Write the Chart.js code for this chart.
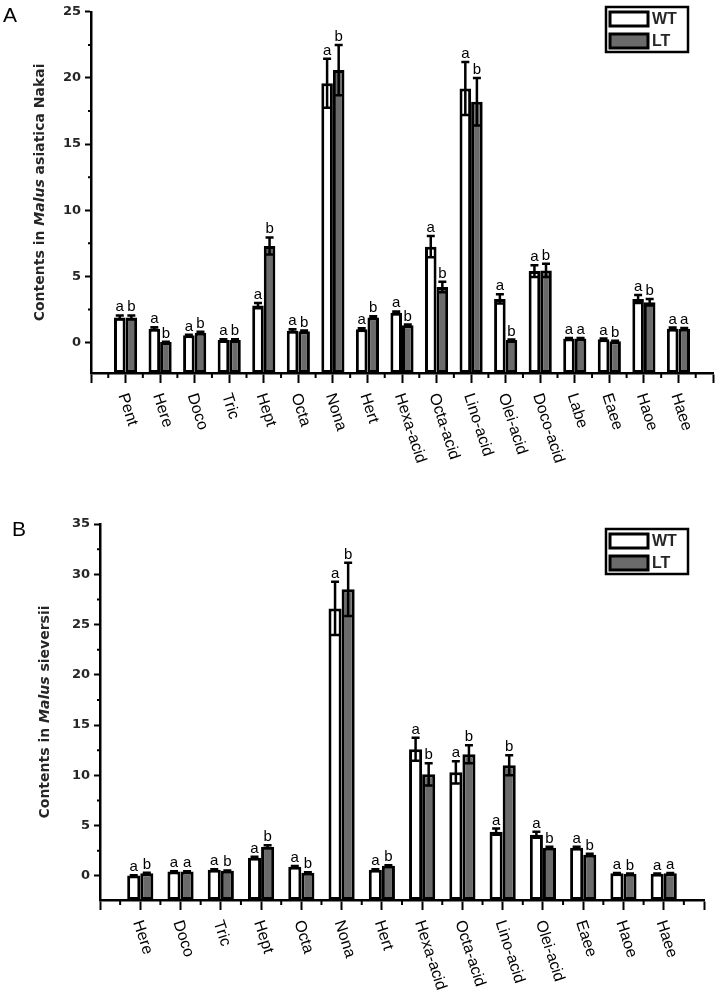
<!DOCTYPE html>
<html>
<head>
<meta charset="utf-8">
<script src="https://cdn.jsdelivr.net/npm/chart.js@4/dist/chart.umd.min.js"></script>
<style>
  html, body { margin: 0; padding: 0; background: #fff; }
  .wrap { position: absolute; left: 0; width: 717px; }
  #wrapA { top: 0; height: 490px; }
  #wrapB { top: 490px; height: 510px; }
</style>
</head>
<body>
<div class="wrap" id="wrapA"><canvas id="chartA"></canvas></div>
<div class="wrap" id="wrapB"><canvas id="chartB"></canvas></div>
<script>
/* ---------- Panel A: Malus asiatica Nakai ---------- */
const catsA = ['Pent', 'Here', 'Doco', 'Tric', 'Hept', 'Octa', 'Nona', 'Hert', 'Hexa-acid',
  'Octa-acid', 'Lino-acid', 'Olei-acid', 'Doco-acid', 'Labe', 'Eaee', 'Haoe', 'Haee'];
const wtA    = [1.9, 1.05, 0.55, 0.2, 2.8, 0.9, 19.6, 1.0, 2.25, 7.25, 19.2, 3.3, 5.4, 0.3, 0.25, 3.3, 1.05];
const wtErrA = [0.15, 0.1, 0.05, 0.05, 0.2, 0.1, 1.85, 0.08, 0.1, 0.8, 2.0, 0.35, 0.45, 0.05, 0.05, 0.3, 0.08];
const ltA    = [1.9, 0.05, 0.75, 0.2, 7.3, 0.85, 20.6, 1.9, 1.3, 4.2, 18.2, 0.2, 5.45, 0.3, 0.1, 3.05, 1.05];
const ltErrA = [0.15, 0.02, 0.06, 0.05, 0.65, 0.06, 1.9, 0.08, 0.06, 0.4, 1.8, 0.03, 0.5, 0.05, 0.03, 0.25, 0.06];
const wtLetA = ['a', 'a', 'a', 'a', 'a', 'a', 'a', 'a', 'a', 'a', 'a', 'a', 'a', 'a', 'a', 'a', 'a'];
const ltLetA = ['b', 'b', 'b', 'b', 'b', 'b', 'b', 'b', 'b', 'b', 'b', 'b', 'b', 'a', 'b', 'b', 'a'];

/* ---------- Panel B: Malus sieversii ---------- */
const catsB = ['Here', 'Doco', 'Tric', 'Hept', 'Octa', 'Nona', 'Hert', 'Hexa-acid', 'Octa-acid',
  'Lino-acid', 'Olei-acid', 'Eaee', 'Haoe', 'Haee'];
const wtB    = [0.03, 0.43, 0.6, 1.8, 0.9, 26.6, 0.6, 12.6, 10.3, 4.4, 4.1, 2.8, 0.25, 0.2];
const wtErrB = [0.02, 0.03, 0.05, 0.1, 0.08, 2.65, 0.05, 1.15, 1.1, 0.3, 0.3, 0.1, 0.03, 0.03];
const ltB    = [0.27, 0.43, 0.5, 2.9, 0.3, 28.5, 1.0, 10.1, 12.1, 11.0, 2.8, 2.1, 0.2, 0.25];
const ltErrB = [0.03, 0.03, 0.04, 0.15, 0.05, 2.65, 0.06, 1.1, 0.9, 1.0, 0.1, 0.1, 0.03, 0.03];
const wtLetB = ['a', 'a', 'a', 'a', 'a', 'a', 'a', 'a', 'a', 'a', 'a', 'a', 'a', 'a'];
const ltLetB = ['b', 'a', 'b', 'b', 'b', 'b', 'b', 'b', 'b', 'b', 'b', 'b', 'b', 'a'];

const seriesNames = ['WT', 'LT'];
const GRAY = '#6b6b6b';
const INK = '#262626';

// draws error bars, significance letters, rotated x labels, minor ticks, title, legend
function decorPlugin(p) {
  return {
    id: 'decor',
    afterDatasetsDraw(chart) {
      const ctx = chart.ctx;
      const y = chart.scales.y;
      ctx.save();
      ctx.strokeStyle = '#000';
      ctx.lineWidth = 2.5;
      ctx.fillStyle = '#000';
      ctx.font = '15px "Liberation Sans", Arial, sans-serif';
      ctx.textAlign = 'center';
      ctx.textBaseline = 'alphabetic';
      [[p.wt, p.wtErr, p.wtLet], [p.lt, p.ltErr, p.ltLet]].forEach((s, di) => {
        const meta = chart.getDatasetMeta(di);
        meta.data.forEach((el, i) => {
          const top = y.getPixelForValue(s[0][i] + s[1][i]);
          const bot = y.getPixelForValue(s[0][i] - s[1][i]);
          ctx.beginPath();
          ctx.moveTo(el.x, top); ctx.lineTo(el.x, bot);
          ctx.moveTo(el.x - 4, top); ctx.lineTo(el.x + 4, top);
          ctx.moveTo(el.x - 4, bot); ctx.lineTo(el.x + 4, bot);
          ctx.stroke();
          ctx.fillText(s[2][i], el.x, top - 4);
        });
      });
      ctx.restore();
    },
    afterDraw(chart) {
      const ctx = chart.ctx;
      const x = chart.scales.x, y = chart.scales.y;
      const area = chart.chartArea;
      ctx.save();
      ctx.strokeStyle = '#000';
      ctx.lineWidth = 2;
      // minor ticks
      ctx.beginPath();
      for (let v = -2.5; v <= y.max; v += 5) {
        if (v < y.min) continue;
        const py = y.getPixelForValue(v);
        ctx.moveTo(area.left - 3, py); ctx.lineTo(area.left, py);
      }
      for (let v = x.min + 0.5; v < x.max; v += 1) {
        const px = x.getPixelForValue(v);
        ctx.moveTo(px, area.bottom); ctx.lineTo(px, area.bottom + 5);
      }
      ctx.stroke();

      // rotated category labels
      ctx.fillStyle = '#000';
      ctx.font = '16px "Liberation Sans", Arial, sans-serif';
      ctx.textAlign = 'left';
      ctx.textBaseline = 'middle';
      p.cats.forEach((c, i) => {
        const px = x.getPixelForValue(i);
        ctx.save();
        ctx.translate(px - 3, area.bottom + 21);
        ctx.rotate(72 * Math.PI / 180);
        ctx.fillText(c, 0, 0);
        ctx.restore();
      });

      // y title with italic genus
      const parts = [['Contents in ', 'bold'], ['Malus', 'italic bold'], [p.species, 'bold']];
      ctx.save();
      ctx.translate(p.titleX, (area.top + area.bottom) / 2);
      ctx.rotate(-Math.PI / 2);
      ctx.fillStyle = INK;
      ctx.textBaseline = 'middle';
      let total = 0;
      parts.forEach(pt => { ctx.font = pt[1] + ' 14px "DejaVu Sans", sans-serif'; total += ctx.measureText(pt[0]).width; });
      let cx = -total / 2;
      parts.forEach(pt => {
        ctx.font = pt[1] + ' 14px "DejaVu Sans", sans-serif';
        ctx.fillText(pt[0], cx, 0);
        cx += ctx.measureText(pt[0]).width;
      });
      ctx.restore();

      // panel letter
      ctx.fillStyle = '#000';
      ctx.font = '21px "Liberation Sans", Arial, sans-serif';
      ctx.textAlign = 'left';
      ctx.textBaseline = 'alphabetic';
      ctx.fillText(p.panel, p.panelX, p.panelY);

      // legend box
      const L = p.legend;
      ctx.lineWidth = 2.5;
      ctx.strokeRect(L.x, L.y, 82, 45);
      ctx.lineWidth = 3;
      ctx.fillStyle = '#fff';
      ctx.fillRect(L.x + 4, L.y + 5, 38, 14);
      ctx.strokeRect(L.x + 4, L.y + 5, 38, 14);
      ctx.fillStyle = GRAY;
      ctx.fillRect(L.x + 4, L.y + 27, 38, 14);
      ctx.strokeRect(L.x + 4, L.y + 27, 38, 14);
      ctx.fillStyle = INK;
      ctx.font = 'bold 16px "Liberation Sans", Arial, sans-serif';
      ctx.textBaseline = 'middle';
      ctx.fillText(seriesNames[0], L.x + 46, L.y + 13);
      ctx.fillText(seriesNames[1], L.x + 46, L.y + 35);
      ctx.restore();
    }
  };
}

function makeChart(id, p) {
  const H = p.height;
  const barOpts = { borderColor: '#000', borderWidth: 3, borderSkipped: false, base: p.yMin,
    categoryPercentage: p.catPct, barPercentage: 1.0 };
  return new Chart(document.getElementById(id), {
    type: 'bar',
    data: {
      datasets: [
        Object.assign({ label: seriesNames[0], backgroundColor: '#fff',
          data: p.wt.map((v, i) => ({ x: i, y: v })) }, barOpts),
        Object.assign({ label: seriesNames[1], backgroundColor: GRAY,
          data: p.lt.map((v, i) => ({ x: i, y: v })) }, barOpts)
      ]
    },
    options: {
      responsive: true,
      maintainAspectRatio: false,
      animation: false,
      layout: { padding: { top: p.area.top, right: 717 - p.area.right, bottom: 0, left: 0 } },
      plugins: { legend: { display: false }, tooltip: { enabled: false } },
      scales: {
        x: {
          type: 'linear', min: -1, max: p.cats.length, offset: false,
          ticks: { stepSize: 1, display: false },
          grid: { display: true, offset: false, drawOnChartArea: false, drawTicks: true,
            tickLength: 10, tickWidth: 2, tickColor: '#000' },
          border: { display: true, color: '#000', width: 2.5 },
          afterFit: s => { s.height = H - p.area.bottom; }
        },
        y: {
          min: p.yMin, max: p.yMax, beginAtZero: false,
          ticks: { stepSize: 5, includeBounds: false, padding: 4, color: INK,
            font: { family: 'DejaVu Sans', size: 13, weight: 'bold' } },
          grid: { display: true, drawOnChartArea: false, drawTicks: true,
            tickLength: 6, tickWidth: 2, tickColor: '#000' },
          border: { display: true, color: '#000', width: 2.5 },
          afterFit: s => { s.width = p.area.left; }
        }
      }
    },
    plugins: [decorPlugin(p)]
  });
}

makeChart('chartA', {
  cats: catsA, wt: wtA, wtErr: wtErrA, lt: ltA, ltErr: ltErrA, wtLet: wtLetA, ltLet: ltLetA,
  yMin: -2.3, yMax: 25, height: 490, catPct: 0.67,
  area: { left: 91, top: 10, right: 713, bottom: 373 },
  species: ' asiatica Nakai', titleX: 40, panel: 'A', panelX: 3, panelY: 22,
  legend: { x: 606, y: 7 }
});

makeChart('chartB', {
  cats: catsB, wt: wtB, wtErr: wtErrB, lt: ltB, ltErr: ltErrB, wtLet: wtLetB, ltLet: ltLetB,
  yMin: -2.4, yMax: 35, height: 510, catPct: 0.65,
  area: { left: 100, top: 34, right: 704, bottom: 410 },
  species: ' sieversii', titleX: 45, panel: 'B', panelX: 12, panelY: 46,
  legend: { x: 606, y: 39 }
});
</script>
</body>
</html>
